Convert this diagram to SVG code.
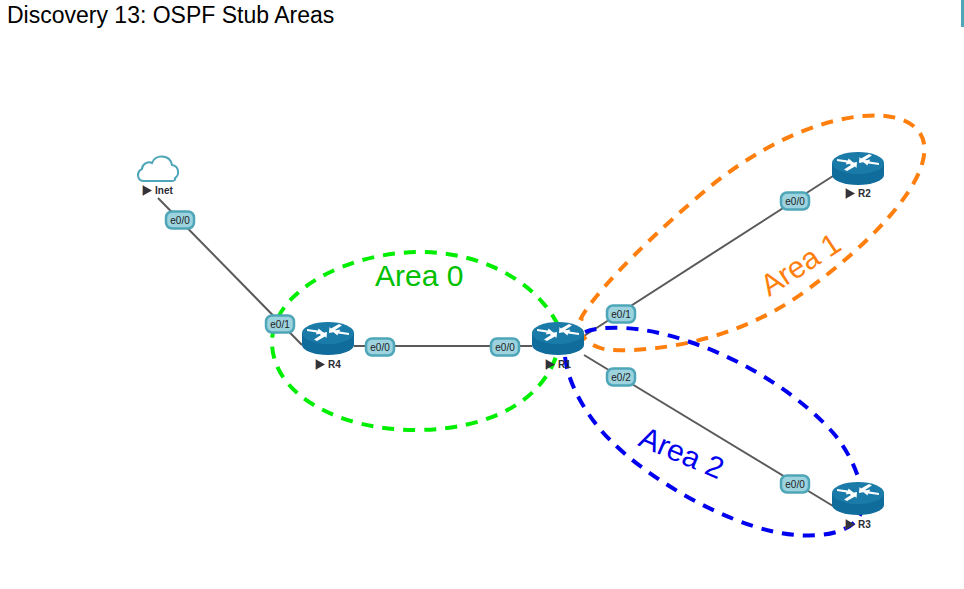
<svg xmlns="http://www.w3.org/2000/svg" width="964" height="589" viewBox="0 0 964 589">
<style>
text{font-family:"Liberation Sans",Arial,sans-serif}
.title{font-size:23px;fill:#000}
.link{stroke:#5a5a5a;stroke-width:2;fill:none}
.area{fill:none;stroke-width:4;stroke-dasharray:12 9}
.port-box{fill:#9dd3df;stroke:#4ea6b8;stroke-width:2.500}
.port text{font-size:10px;fill:#222;text-anchor:middle}
.name{font-size:10px;font-weight:bold;fill:#2b2b33}
.area-label{font-size:30px}
</style>
<defs>
<g id="router">
<path d="M-26-5V7A26 10 0 0 0 26 7V-5Z" fill="#0f6c9b"/>
<ellipse cx="0" cy="-5" rx="26" ry="11" fill="#1a7aa8"/>
<g fill="#fff">
<path d="M-21-9L-10-7.500-9.500-9.500-4-5-12-3.500-11.500-5.500-21-7Z"/>
<path d="M21-3L10-4.500 9.500-2.500 4-7 12-8.500 11.500-6.500 21-5Z"/>
<path d="M11-14L3-9.500 1.500-11 1-5 9-6.500 7-8 14-12.500Z"/>
<path d="M-11 3L-3-1.500-1.500 0-1-6-9-4.500-7-3-14 1.500Z"/>
</g>
</g>
<g id="play">
<path d="M-0.500-4.500h1v10h-1Z" fill="#a8642c"/>
<path d="M0-4.500L9 0.500 0 5.500Z" fill="#33333b"/>
</g>
<rect id="port" class="port-box" x="-14" y="-8.500" width="28" height="17" rx="6"/>
</defs>
<rect width="964" height="589" fill="#fff"/>
<rect x="961" y="0" width="3" height="27" fill="#4ea6b8"/>
<text class="title" x="7" y="23">Discovery 13: OSPF Stub Areas</text>
<g id="connectors">
<path class="link" d="M158 198L302 345"/>
<path class="link" d="M354 346H532"/>
<path class="link" d="M584 336L833 176"/>
<path class="link" d="M584 355L833 506"/>
</g>
<g id="areas">
<path class="area" stroke="#00ee00" d="M558 325C535 280 480 252 420 252C350 252 272 290 272 342C272 395 340 430 415 430C490 430 545 400 558 350"/>
<path class="area" stroke="#ff7f0e" d="M580 320C590 300 630 255 700 195C770 135 840 112 885 116C915 119 927 135 924 155C920 190 870 245 800 295C735 340 660 352 610 350C590 348 575 335 582 318"/>
<path class="area" stroke="#0000ee" d="M585 332C600 326 640 324 690 342C750 362 805 400 835 435C855 460 865 490 862 510C855 535 815 540 775 532C720 520 650 480 610 440C585 415 562 375 565 345"/>
</g>
<g id="Inet">
<path d="M144 181C137 181 136 172 142 169C142 164 148 161 152 163C155 154 170 154 172 165C179 166 180 175 175 178C176 180 174 181 171 181Z" fill="#fff" stroke="#4ea6b8" stroke-width="2"/>
<use href="#play" x="143" y="190"/>
<text class="name" x="155" y="194">Inet</text>
</g>
<g id="R4">
<use href="#router" x="328" y="338"/>
<use href="#play" x="316" y="364"/>
<text class="name" x="328" y="368">R4</text>
</g>
<g id="R1">
<use href="#router" x="558" y="338"/>
<use href="#play" x="546" y="364"/>
<text class="name" x="558" y="368">R1</text>
</g>
<g id="R2">
<use href="#router" x="858" y="168"/>
<use href="#play" x="846" y="193"/>
<text class="name" x="858" y="197">R2</text>
</g>
<g id="R3">
<use href="#router" x="858" y="498"/>
<use href="#play" x="846" y="524"/>
<text class="name" x="858" y="528">R3</text>
</g>
<g id="ports">
<g class="port"><use href="#port" x="180" y="220"/><text x="180" y="224">e0/0</text></g>
<g class="port"><use href="#port" x="280" y="324"/><text x="280" y="328">e0/1</text></g>
<g class="port"><use href="#port" x="380" y="347"/><text x="380" y="351">e0/0</text></g>
<g class="port"><use href="#port" x="505" y="347"/><text x="505" y="351">e0/0</text></g>
<g class="port"><use href="#port" x="621" y="314"/><text x="621" y="318">e0/1</text></g>
<g class="port"><use href="#port" x="621" y="377"/><text x="621" y="381">e0/2</text></g>
<g class="port"><use href="#port" x="795" y="201"/><text x="795" y="205">e0/0</text></g>
<g class="port"><use href="#port" x="795" y="484"/><text x="795" y="488">e0/0</text></g>
</g>
<g id="area-labels">
<text class="area-label" x="375" y="286" fill="#00c000">Area 0</text>
<text class="area-label" transform="translate(769 297) rotate(-33)" fill="#ff7f0e">Area 1</text>
<text class="area-label" transform="translate(637 445) rotate(23)" fill="#0000ee">Area 2</text>
</g>
</svg>
